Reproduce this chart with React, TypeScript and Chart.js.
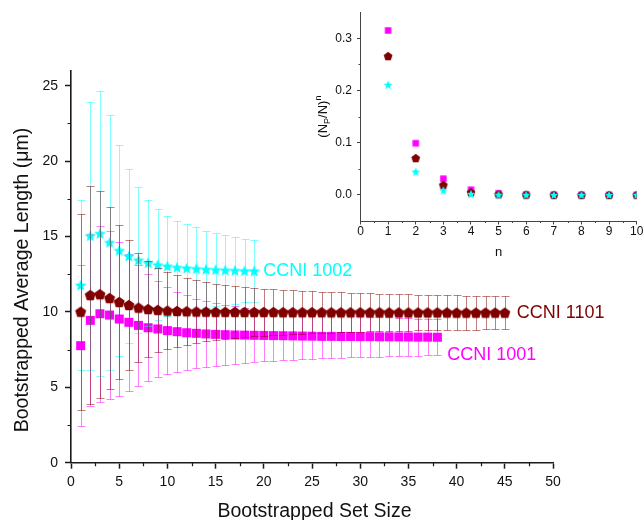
import React, { useEffect, useRef } from 'react';
import { Chart, registerables } from 'chart.js';

Chart.register(...registerables);

const FONT = '"Liberation Sans", Arial, Helvetica, sans-serif';

// ---------- main chart data ----------
const setSize1002 = [1, 2, 3, 4, 5, 6, 7, 8, 9, 10, 11, 12, 13, 14, 15, 16, 17, 18, 19];
const mean1002 = [11.78, 15.05, 15.21, 14.61, 14.08, 13.71, 13.44, 13.26, 13.13, 13.04, 12.96, 12.91, 12.87, 12.83, 12.8, 12.77, 12.75, 12.73, 12.72];
const sd1002 = [5.63, 8.87, 9.44, 8.43, 7.01, 5.79, 4.82, 4.18, 3.69, 3.34, 3.09, 2.9, 2.74, 2.55, 2.42, 2.33, 2.24, 2.1, 2.05];

const setSize1101 = [1, 2, 3, 4, 5, 6, 7, 8, 9, 10, 11, 12, 13, 14, 15, 16, 17, 18, 19, 20, 21, 22, 23, 24, 25, 26, 27, 28, 29, 30, 31, 32, 33, 34, 35, 36, 37, 38, 39, 40, 41, 42, 43, 44, 45];
const mean1101 = [10.01, 11.12, 11.17, 10.92, 10.66, 10.46, 10.28, 10.19, 10.13, 10.08, 10.06, 10.04, 10.02, 10.01, 10.0, 10.0, 10.0, 9.99, 9.99, 9.99, 9.99, 9.98, 9.98, 9.98, 9.98, 9.98, 9.97, 9.97, 9.97, 9.97, 9.97, 9.97, 9.96, 9.96, 9.96, 9.96, 9.96, 9.96, 9.96, 9.95, 9.95, 9.95, 9.95, 9.95, 9.95];
const sd1101 = [6.49, 7.25, 6.86, 6.01, 5.13, 4.29, 3.6, 3.16, 2.79, 2.56, 2.37, 2.21, 2.08, 1.97, 1.88, 1.8, 1.73, 1.67, 1.61, 1.56, 1.52, 1.48, 1.45, 1.42, 1.39, 1.36, 1.34, 1.32, 1.3, 1.28, 1.26, 1.24, 1.23, 1.21, 1.2, 1.18, 1.17, 1.16, 1.15, 1.14, 1.13, 1.12, 1.11, 1.1, 1.09];

const setSize1001 = [1, 2, 3, 4, 5, 6, 7, 8, 9, 10, 11, 12, 13, 14, 15, 16, 17, 18, 19, 20, 21, 22, 23, 24, 25, 26, 27, 28, 29, 30, 31, 32, 33, 34, 35, 36, 37, 38];
const mean1001 = [7.76, 9.44, 9.88, 9.79, 9.53, 9.31, 9.11, 8.95, 8.87, 8.76, 8.69, 8.62, 8.58, 8.54, 8.51, 8.49, 8.47, 8.46, 8.45, 8.44, 8.43, 8.42, 8.41, 8.4, 8.39, 8.38, 8.38, 8.37, 8.37, 8.36, 8.36, 8.35, 8.35, 8.34, 8.34, 8.33, 8.33, 8.32];
const sd1001 = [5.33, 5.7, 5.83, 5.59, 5.09, 4.54, 4.0, 3.53, 3.17, 2.9, 2.66, 2.47, 2.3, 2.18, 2.07, 1.98, 1.9, 1.83, 1.77, 1.71, 1.66, 1.62, 1.58, 1.54, 1.5, 1.47, 1.44, 1.41, 1.38, 1.36, 1.33, 1.31, 1.29, 1.27, 1.25, 1.23, 1.21, 1.2];

const mainXTicks = [0, 5, 10, 15, 20, 25, 30, 35, 40, 45, 50];
const mainXMinor = [2.5, 7.5, 12.5, 17.5, 22.5, 27.5, 32.5, 37.5, 42.5, 47.5];
const mainYTicks = [0, 5, 10, 15, 20, 25];
const mainYMinor = [2.5, 7.5, 12.5, 17.5, 22.5];

// ---------- inset data ----------
const insetN = [1, 2, 3, 4, 5, 6, 7, 8, 9, 10];
const inset1001 = [0.315, 0.099, 0.031, 0.0099, 0.0031, 0.001, 0.0003, 0.0001, 0.00003, 0.00001];
const inset1101 = [0.266, 0.0706, 0.0192, 0.005, 0.0013, 0.00035, 0.0001, 0.00003, 0.00001, 0.000002];
const inset1002 = [0.211, 0.0445, 0.0088, 0.0019, 0.0004, 0.0001, 0.00002, 0.0, 0.0, 0.0];

const insetXTicks = [0, 1, 2, 3, 4, 5, 6, 7, 8, 9, 10];
const insetXMinor = [0.5, 1.5, 2.5, 3.5, 4.5, 5.5, 6.5, 7.5, 8.5, 9.5];
const insetYTicks = [0, 0.1, 0.2, 0.3];
const insetYMinor = [0.05, 0.15, 0.25];

const CYAN = '#00FFFF';
const MAROON = '#800000';
const MAGENTA = '#FF00FF';

function makeCanvas(size: number) {
  const c = document.createElement('canvas');
  c.width = size;
  c.height = size;
  return c;
}
function makeStar(R: number, color: string) {
  const size = Math.ceil(2 * R + 2);
  const c = makeCanvas(size);
  const ctx = c.getContext('2d')!;
  const cx = size / 2, cy = size / 2 + R * 0.1;
  const r = R * 0.45;
  ctx.beginPath();
  for (let i = 0; i < 10; i++) {
    const rad = i % 2 === 0 ? R : r;
    const a = -Math.PI / 2 + (i * Math.PI) / 5;
    const x = cx + rad * Math.cos(a), y = cy + rad * Math.sin(a);
    if (i === 0) ctx.moveTo(x, y); else ctx.lineTo(x, y);
  }
  ctx.closePath();
  ctx.fillStyle = color;
  ctx.fill();
  return c;
}
function makePentagon(R: number, color: string) {
  const size = Math.ceil(2 * R + 2);
  const c = makeCanvas(size);
  const ctx = c.getContext('2d')!;
  const cx = size / 2, cy = size / 2 + R * 0.1;
  ctx.beginPath();
  for (let i = 0; i < 5; i++) {
    const a = -Math.PI / 2 + (i * 2 * Math.PI) / 5;
    const x = cx + R * Math.cos(a), y = cy + R * Math.sin(a);
    if (i === 0) ctx.moveTo(x, y); else ctx.lineTo(x, y);
  }
  ctx.closePath();
  ctx.fillStyle = color;
  ctx.fill();
  return c;
}
function makeSquare(side: number, color: string) {
  const size = Math.ceil(side + 2);
  const c = makeCanvas(size);
  const ctx = c.getContext('2d')!;
  ctx.fillStyle = color;
  ctx.fillRect((size - side) / 2, (size - side) / 2, side, side);
  return c;
}

const errorBarPlugin = {
  id: 'errorBars',
  beforeDatasetDraw(chart: any, args: any) {
    const ds = chart.data.datasets[args.index];
    if (!ds.errors) return;
    const ctx = chart.ctx;
    const xs = chart.scales.x, ys = chart.scales.y;
    ctx.save();
    ctx.strokeStyle = ds.errColor;
    ctx.lineWidth = 1;
    ctx.beginPath();
    ds.data.forEach((p: any, i: number) => {
      const e = ds.errors[i];
      const px = Math.round(xs.getPixelForValue(p.x)) + 0.5;
      const top = Math.round(ys.getPixelForValue(p.y + e)) + 0.5;
      const bot = Math.round(ys.getPixelForValue(p.y - e)) + 0.5;
      ctx.moveTo(px, top);
      ctx.lineTo(px, bot);
      ctx.moveTo(px - 4, top);
      ctx.lineTo(px + 4, top);
      ctx.moveTo(px - 4, bot);
      ctx.lineTo(px + 4, bot);
    });
    ctx.stroke();
    ctx.restore();
  },
};

function minorTicksPlugin(xMinor: number[], yMinor: number[], len: number, color: string, width: number) {
  return {
    id: 'minorTicks',
    afterDraw(chart: any) {
      const ctx = chart.ctx;
      const xs = chart.scales.x, ys = chart.scales.y;
      const area = chart.chartArea;
      ctx.save();
      ctx.strokeStyle = color;
      ctx.lineWidth = width;
      ctx.beginPath();
      xMinor.forEach((v) => {
        const px = Math.round(xs.getPixelForValue(v)) + 0.5;
        ctx.moveTo(px, area.bottom);
        ctx.lineTo(px, area.bottom + len);
      });
      yMinor.forEach((v) => {
        const py = Math.round(ys.getPixelForValue(v)) + 0.5;
        ctx.moveTo(area.left, py);
        ctx.lineTo(area.left - len, py);
      });
      ctx.stroke();
      ctx.restore();
    },
  };
}

const mainTextPlugin = {
  id: 'mainText',
  afterDraw(chart: any) {
    const ctx = chart.ctx;
    const xs = chart.scales.x, ys = chart.scales.y;
    ctx.save();
    // series labels
    ctx.font = `18px ${FONT}`;
    ctx.textBaseline = 'middle';
    ctx.textAlign = 'left';
    ctx.fillStyle = CYAN;
    ctx.fillText('CCNI 1002', xs.getPixelForValue(19) + 9, ys.getPixelForValue(mean1002[18]));
    ctx.fillStyle = MAROON;
    ctx.fillText('CCNI 1101', xs.getPixelForValue(45) + 12, ys.getPixelForValue(mean1101[44]));
    ctx.fillStyle = MAGENTA;
    ctx.fillText('CCNI 1001', xs.getPixelForValue(38) + 10, ys.getPixelForValue(mean1001[37] - sd1001[37]));
    // axis titles
    ctx.fillStyle = '#111';
    ctx.font = `19.5px ${FONT}`;
    ctx.textAlign = 'center';
    ctx.textBaseline = 'alphabetic';
    ctx.fillText('Bootstrapped Set Size', 314.5, 517);
    ctx.translate(28, 280);
    ctx.rotate(-Math.PI / 2);
    ctx.fillText('Bootstrapped Average Length (\u03BCm)', 0, 0);
    ctx.restore();
  },
};

const insetTextPlugin = {
  id: 'insetText',
  afterDraw(chart: any) {
    const ctx = chart.ctx;
    const area = chart.chartArea;
    ctx.save();
    ctx.fillStyle = '#111';
    ctx.font = `13px ${FONT}`;
    ctx.textAlign = 'center';
    ctx.textBaseline = 'alphabetic';
    ctx.fillText('n', (area.left + area.right) / 2, 256);
    // rotated (N_P/N)^n
    const big = `13px ${FONT}`;
    const small = `9px ${FONT}`;
    ctx.font = big;
    const w1 = ctx.measureText('(N').width;
    const w3 = ctx.measureText('/N)').width;
    ctx.font = small;
    const w2 = ctx.measureText('P').width;
    const w4 = ctx.measureText('n').width;
    const total = w1 + w2 + w3 + w4;
    const cy = (area.top + area.bottom) / 2;
    ctx.translate(27, cy + total / 2);
    ctx.rotate(-Math.PI / 2);
    ctx.textAlign = 'left';
    let x = 0;
    ctx.font = big;
    ctx.fillText('(N', x, 0);
    x += w1;
    ctx.font = small;
    ctx.fillText('P', x, 3);
    x += w2;
    ctx.font = big;
    ctx.fillText('/N)', x, 0);
    x += w3;
    ctx.font = small;
    ctx.fillText('n', x, -6);
    ctx.restore();
  },
};

export default function App() {
  const mainRef = useRef<HTMLCanvasElement>(null);
  const insetRef = useRef<HTMLCanvasElement>(null);

  useEffect(() => {
    const starBig = makeStar(6, CYAN);
    const pentBig = makePentagon(5.8, MAROON);
    const sqBig = makeSquare(9, MAGENTA);
    const starSm = makeStar(4.6, CYAN);
    const pentSm = makePentagon(4.6, MAROON);
    const sqSm = makeSquare(6.5, MAGENTA);

    const axisColor = '#1a1a1a';
    const main = new Chart(mainRef.current!, {
      type: 'scatter',
      data: {
        datasets: [
          {
            label: 'CCNI 1101',
            data: setSize1101.map((x, i) => ({ x, y: mean1101[i] })),
            pointStyle: pentBig,
            pointRadius: 6,
            backgroundColor: MAROON,
            borderColor: MAROON,
            errors: sd1101,
            errColor: 'rgba(128,0,0,0.5)',
          } as any,
          {
            label: 'CCNI 1002',
            data: setSize1002.map((x, i) => ({ x, y: mean1002[i] })),
            pointStyle: starBig,
            pointRadius: 6,
            backgroundColor: CYAN,
            borderColor: CYAN,
            errors: sd1002,
            errColor: 'rgba(0,255,255,0.5)',
          } as any,
          {
            label: 'CCNI 1001',
            data: setSize1001.map((x, i) => ({ x, y: mean1001[i] })),
            pointStyle: sqBig,
            pointRadius: 6,
            backgroundColor: MAGENTA,
            borderColor: MAGENTA,
            errors: sd1001,
            errColor: 'rgba(255,0,255,0.5)',
          } as any,
        ],
      },
      options: {
        animation: false,
        responsive: false,
        maintainAspectRatio: false,
        layout: { padding: { left: 0, right: 91, top: 70.6, bottom: 0 } },
        plugins: { legend: { display: false }, tooltip: { enabled: false } },
        scales: {
          x: {
            type: 'linear',
            min: 0,
            max: 50,
            afterBuildTicks: (s: any) => {
              s.ticks = mainXTicks.map((v) => ({ value: v }));
            },
            afterFit: (s: any) => {
              s.height = 57.3;
            },
            ticks: {
              font: { family: FONT, size: 14 },
              color: '#111',
              padding: 5,
              maxRotation: 0,
              autoSkip: false,
              callback: (v: any) => String(v),
            },
            grid: { drawOnChartArea: false, tickLength: 6, tickColor: axisColor, tickWidth: 1.5 },
            border: { display: true, color: axisColor, width: 1.6 },
          },
          y: {
            type: 'linear',
            min: 0,
            max: 26,
            afterBuildTicks: (s: any) => {
              s.ticks = mainYTicks.map((v) => ({ value: v }));
            },
            afterFit: (s: any) => {
              s.width = 71;
            },
            ticks: {
              font: { family: FONT, size: 14 },
              color: '#111',
              padding: 7,
              autoSkip: false,
              callback: (v: any) => String(v),
            },
            grid: { drawOnChartArea: false, tickLength: 6, tickColor: axisColor, tickWidth: 1.5 },
            border: { display: true, color: axisColor, width: 1.6 },
          },
        },
      } as any,
      plugins: [errorBarPlugin, minorTicksPlugin(mainXMinor, mainYMinor, 3.5, axisColor, 1.2), mainTextPlugin],
    });

    const insetAxis = '#444';
    const inset = new Chart(insetRef.current!, {
      type: 'scatter',
      data: {
        datasets: [
          {
            label: 'CCNI 1002',
            data: insetN.map((x, i) => ({ x, y: inset1002[i] })),
            pointStyle: starSm,
            pointRadius: 5,
          } as any,
          {
            label: 'CCNI 1101',
            data: insetN.map((x, i) => ({ x, y: inset1101[i] })),
            pointStyle: pentSm,
            pointRadius: 5,
          } as any,
          {
            label: 'CCNI 1001',
            data: insetN.map((x, i) => ({ x, y: inset1001[i] })),
            pointStyle: sqSm,
            pointRadius: 5,
          } as any,
        ],
      },
      options: {
        animation: false,
        responsive: false,
        maintainAspectRatio: false,
        layout: { padding: { left: 0, right: 7.3, top: 6.7, bottom: 0 } },
        plugins: { legend: { display: false }, tooltip: { enabled: false } },
        scales: {
          x: {
            type: 'linear',
            min: 0,
            max: 10,
            afterBuildTicks: (s: any) => {
              s.ticks = insetXTicks.map((v) => ({ value: v }));
            },
            afterFit: (s: any) => {
              s.height = 39;
            },
            ticks: {
              font: { family: FONT, size: 12 },
              color: '#111',
              padding: 0,
              maxRotation: 0,
              autoSkip: false,
              callback: (v: any) => String(v),
            },
            grid: { drawOnChartArea: false, tickLength: 3.5, tickColor: insetAxis, tickWidth: 1 },
            border: { display: true, color: insetAxis, width: 1 },
          },
          y: {
            type: 'linear',
            min: -0.05,
            max: 0.35,
            afterBuildTicks: (s: any) => {
              s.ticks = insetYTicks.map((v) => ({ value: v }));
            },
            afterFit: (s: any) => {
              s.width = 60.5;
            },
            ticks: {
              font: { family: FONT, size: 12 },
              color: '#111',
              padding: 5,
              autoSkip: false,
              callback: (v: any) => Number(v).toFixed(1),
            },
            grid: { drawOnChartArea: false, tickLength: 3.5, tickColor: insetAxis, tickWidth: 1 },
            border: { display: true, color: insetAxis, width: 1 },
          },
        },
      } as any,
      plugins: [minorTicksPlugin(insetXMinor, insetYMinor, 2, insetAxis, 1), insetTextPlugin],
    });

    return () => {
      main.destroy();
      inset.destroy();
    };
  }, []);

  return (
    <div style={{ position: 'fixed', left: 0, top: 0, width: 644, height: 520, background: '#fff', overflow: 'hidden' }}>
      <canvas ref={mainRef} width={644} height={520} style={{ position: 'absolute', left: 0, top: 0, width: 644, height: 520 }} />
      <canvas ref={insetRef} width={344} height={260} style={{ position: 'absolute', left: 300, top: 0, width: 344, height: 260 }} />
    </div>
  );
}
